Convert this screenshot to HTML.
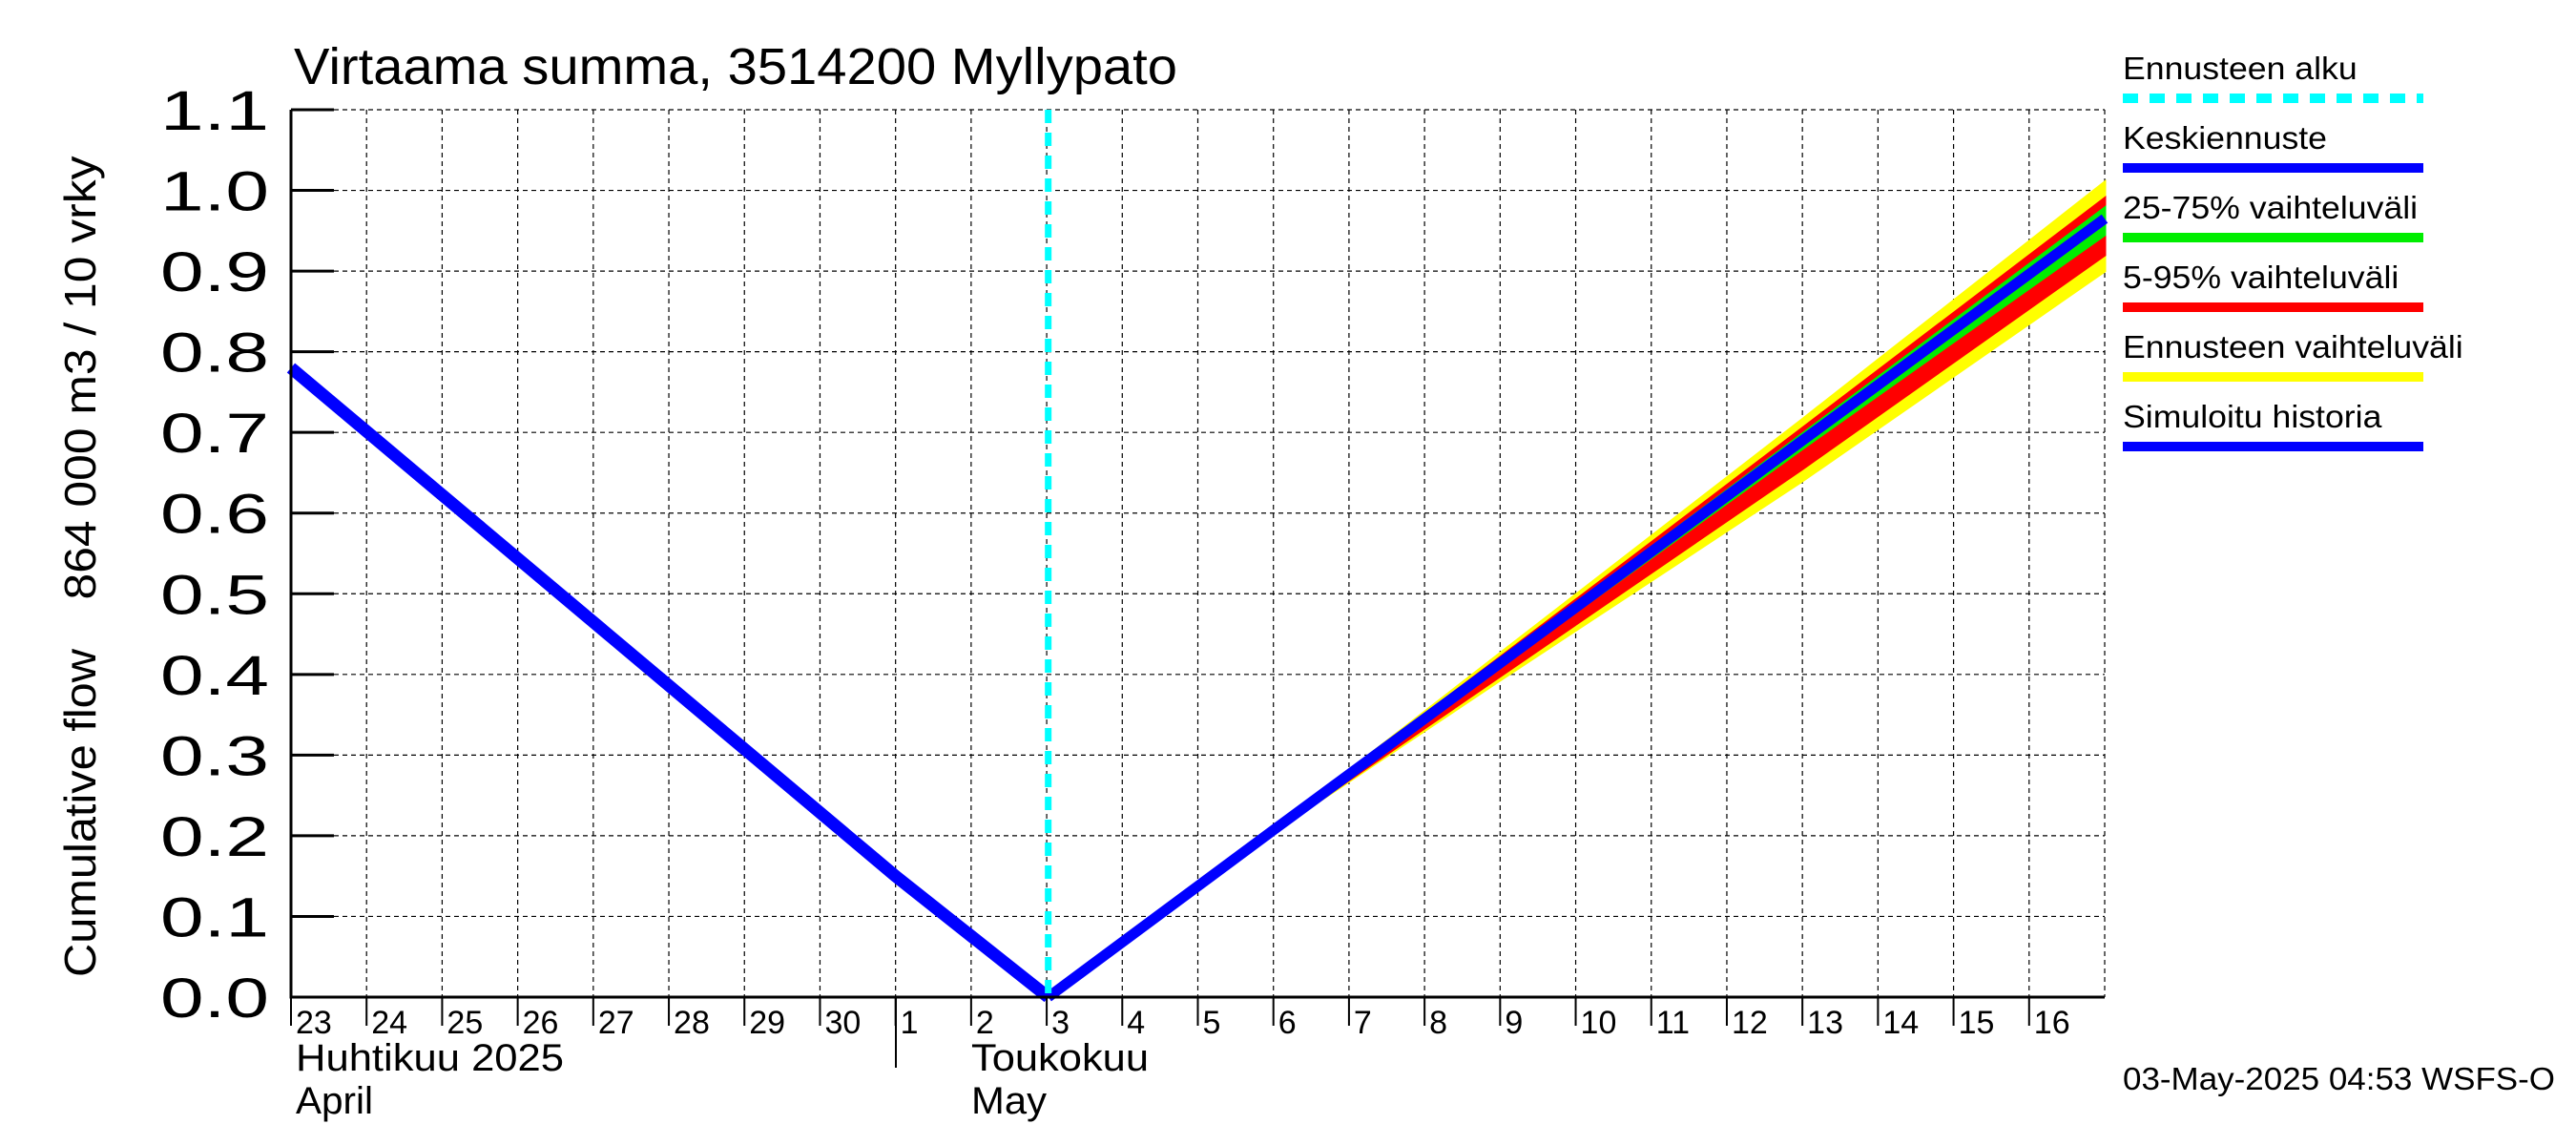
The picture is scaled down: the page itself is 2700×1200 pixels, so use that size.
<!DOCTYPE html>
<html><head><meta charset="utf-8"><style>
body{margin:0;background:#fff}
svg{display:block;font-family:"Liberation Sans",sans-serif}
</style></head><body>
<svg id="chart" width="2700" height="1200" viewBox="0 0 2700 1200" xmlns="http://www.w3.org/2000/svg">
<rect width="2700" height="1200" fill="#fff"/>
<text x="308" y="88" font-size="54" textLength="926" lengthAdjust="spacingAndGlyphs">Virtaama summa, 3514200 Myllypato</text>
<text transform="translate(100,852) rotate(-90)" font-size="46" text-anchor="middle" textLength="344" lengthAdjust="spacingAndGlyphs">Cumulative flow</text>
<text transform="translate(100,396) rotate(-90)" font-size="46" text-anchor="middle" textLength="465" lengthAdjust="spacingAndGlyphs">864 000 m3 / 10 vrky</text>
<g id="grid"></g>
<g id="series"></g>
<g id="axes"></g>
<g id="legend"></g>
<text x="310" y="1122" font-size="40" textLength="281" lengthAdjust="spacingAndGlyphs">Huhtikuu  2025</text>
<text x="310" y="1167" font-size="40" textLength="81" lengthAdjust="spacingAndGlyphs">April</text>
<text x="1018" y="1122" font-size="40" textLength="186" lengthAdjust="spacingAndGlyphs">Toukokuu</text>
<text x="1018" y="1167" font-size="40" textLength="79" lengthAdjust="spacingAndGlyphs">May</text>
<line x1="939" y1="1045" x2="939" y2="1119" stroke="#000" stroke-width="2"/>
<text x="2225" y="1142" font-size="33" textLength="453" lengthAdjust="spacingAndGlyphs">03-May-2025 04:53 WSFS-O</text>
</svg>
<script>
const yTicks=[0,0.1,0.2,0.3,0.4,0.5,0.6,0.7,0.8,0.9,1.0,1.1];
const dayLabels=["23","24","25","26","27","28","29","30","1","2","3","4","5","6","7","8","9","10","11","12","13","14","15","16"];
const forecastStart=10.02;
const histDays=[0,8,10.02];
const histVals=[0.78,0.15,0];
const fcDays=[10.02,13,16,20,24];
const meanVals=[0,0.207,0.414,0.69,0.965];
const yelHi=[0,0.208,0.426,0.716,1.01];
const yelLo=[0,0.205,0.393,0.64,0.90];
const redHi=[0,0.208,0.421,0.705,0.99];
const redLo=[0,0.205,0.398,0.655,0.92];
const grnHi=[0,0.207,0.417,0.698,0.978];
const grnLo=[0,0.207,0.41,0.68,0.945];

const NS="http://www.w3.org/2000/svg";
const L=305,R=2206,T=115,B=1045,NDAYS=24,YMAX=1.1;
const x=d=>L+(R-L)*d/NDAYS;
const y=v=>B-(B-T)*v/YMAX;
function mk(tag,attrs,parent){const e=document.createElementNS(NS,tag);for(const k in attrs)e.setAttribute(k,attrs[k]);document.getElementById(parent).appendChild(e);return e;}
yTicks.forEach((v,i)=>{if(i===0)return;
 const g=mk('line',{x1:L,x2:R,y1:y(v),y2:y(v),stroke:'#000','stroke-width':1.2,'stroke-dasharray':'5,4'},'grid');
 
 
});
for(let d=1;d<=NDAYS;d++){
 const g=mk('line',{x1:x(d),x2:x(d),y1:T,y2:B,stroke:'#000','stroke-width':1.2,'stroke-dasharray':'5,4'},'grid');
 
 
}
function band(hi,lo,col,name){
 let p=fcDays.map((d,i)=>x(d)+','+y(hi[i])).join(' ')+' '+fcDays.slice().reverse().map((d,j)=>{const i=fcDays.length-1-j;return x(d)+','+y(lo[i]);}).join(' ');
 const e=mk('polygon',{points:p,fill:col,stroke:col,'stroke-width':3},'series');
 
 
}
band(yelHi,yelLo,'#ffff00','band-full-range');
band(redHi,redLo,'#ff0000','band-5-95');
band(grnHi,grnLo,'#00ee00','band-25-75');
const m=mk('polyline',{points:fcDays.map((d,i)=>x(d)+','+y(meanVals[i])).join(' '),fill:'none',stroke:'#0000ff','stroke-width':11},'series');


const h=mk('polyline',{points:histDays.map((d,i)=>x(d)+','+y(histVals[i])).join(' '),fill:'none',stroke:'#0000ff','stroke-width':13},'series');


const fs=mk('line',{x1:x(forecastStart),x2:x(forecastStart),y1:T,y2:B,stroke:'#00ffff','stroke-width':7,'stroke-dasharray':'14,10'},'series');


const fr=mk('polyline',{points:`${L},${T} ${L},${B} ${R},${B}`,fill:'none',stroke:'#000','stroke-width':3},'axes');


yTicks.forEach(v=>{
 const t=mk('line',{x1:L,x2:L+45,y1:y(v),y2:y(v),stroke:'#000','stroke-width':3},'axes');
 
 
 const tx=mk('text',{x:168,y:y(v)+21,'font-size':58,textLength:114,lengthAdjust:'spacingAndGlyphs'},'axes');
 
 
 tx.textContent=v.toFixed(1);
});
dayLabels.forEach((s,i)=>{
 const t=mk('line',{x1:x(i),x2:x(i),y1:B,y2:B+30,stroke:'#000','stroke-width':2},'axes');
 
 
 const tx=mk('text',{x:x(i)+5,y:B+38,'font-size':34},'axes');
 
 
 tx.textContent=s;
});
const legNames=["Ennusteen alku","Keskiennuste","25-75% vaihteluväli","5-95% vaihteluväli","Ennusteen vaihteluväli","Simuloitu historia"];
const legCols=["#00ffff","#0000ff","#00ee00","#ff0000","#ffff00","#0000ff"];
legNames.forEach((n,i)=>{
 const ly=103+i*73;
 const tx=mk('text',{x:2225,y:ly-20,'font-size':33},'legend');
 
 
 tx.textContent=n;
 const w=tx.getComputedTextLength();
 if(w>0){tx.setAttribute('textLength',(w*1.08).toFixed(1));tx.setAttribute('lengthAdjust','spacingAndGlyphs');}
 const a={x1:2225,x2:2540,y1:ly,y2:ly,stroke:legCols[i],'stroke-width':10};
 if(i===0)a['stroke-dasharray']='16,12';
 const ln=mk('line',a,'legend');
 
 
});
</script>
</body></html>
